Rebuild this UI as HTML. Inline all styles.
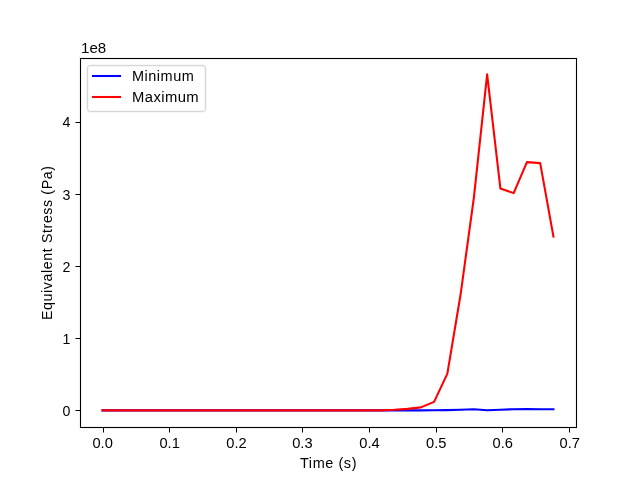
<!DOCTYPE html>
<html><head><meta charset="utf-8"><style>
html,body{margin:0;padding:0;background:#fff;}
svg{display:block;will-change:transform;}
text{font-family:"Liberation Sans",sans-serif;font-size:13.89px;fill:#000;}
</style></head><body>
<svg width="640" height="480" viewBox="0 0 640 480">
<rect x="0" y="0" width="640" height="480" fill="#fff"/>
<polyline points="102.55,410.40 115.81,410.40 129.07,410.40 142.33,410.40 155.59,410.40 168.86,410.40 182.12,410.40 195.38,410.40 208.64,410.40 221.90,410.40 235.17,410.40 248.43,410.40 261.69,410.40 274.95,410.40 288.21,410.40 301.48,410.40 314.74,410.40 328.00,410.40 341.26,410.40 354.52,410.40 367.79,410.40 381.05,410.40 394.31,410.40 407.57,410.40 420.83,410.40 434.10,410.25 447.36,410.10 460.62,409.70 473.88,409.30 487.14,410.20 500.41,409.70 513.67,409.20 526.93,409.10 540.19,409.30 553.45,409.30" fill="none" stroke="#0000ff" stroke-width="2.083" stroke-linejoin="round" stroke-linecap="square"/>
<polyline points="102.55,410.40 115.81,410.40 129.07,410.40 142.33,410.40 155.59,410.40 168.86,410.40 182.12,410.40 195.38,410.40 208.64,410.40 221.90,410.40 235.17,410.40 248.43,410.40 261.69,410.40 274.95,410.40 288.21,410.40 301.48,410.40 314.74,410.40 328.00,410.40 341.26,410.40 354.52,410.40 367.79,410.40 381.05,410.40 394.31,409.80 407.57,408.90 420.83,407.35 434.10,401.85 447.36,373.59 460.62,294.27 473.88,197.54 487.14,74.40 500.41,188.53 513.67,193.14 526.93,162.13 540.19,163.13 553.45,236.55" fill="none" stroke="#ff0000" stroke-width="2.083" stroke-linejoin="round" stroke-linecap="square"/>
<path d="M80.5 58.5H576.5M80.5 427.5H576.5M80.5 58.5V427.5M576.5 58.5V427.5" stroke="#000" stroke-opacity="0.055" stroke-width="3" fill="none" stroke-linecap="square"/>
<path d="M80.5 58.5H576.5M80.5 427.5H576.5M80.5 58.5V427.5M576.5 58.5V427.5" stroke="#000" stroke-width="1" fill="none" stroke-linecap="square"/>
<path d="M103.5 427.5V432.5M169.5 427.5V432.5M236.5 427.5V432.5M302.5 427.5V432.5M369.5 427.5V432.5M436.5 427.5V432.5M502.5 427.5V432.5M569.5 427.5V432.5M75.5 410.5H80.5M75.5 338.5H80.5M75.5 266.5H80.5M75.5 194.5H80.5M75.5 122.5H80.5" stroke="#000" stroke-width="1" fill="none"/>
<text x="102.64" y="448.00" text-anchor="middle" textLength="20.4" lengthAdjust="spacingAndGlyphs" style="font-size:13.74px">0.0</text><text x="169.66" y="448.00" text-anchor="middle" textLength="20.4" lengthAdjust="spacingAndGlyphs" style="font-size:13.74px">0.1</text><text x="236.48" y="448.00" text-anchor="middle" textLength="20.4" lengthAdjust="spacingAndGlyphs" style="font-size:13.74px">0.2</text><text x="302.35" y="448.00" text-anchor="middle" textLength="20.4" lengthAdjust="spacingAndGlyphs" style="font-size:13.74px">0.3</text><text x="369.58" y="448.00" text-anchor="middle" textLength="20.4" lengthAdjust="spacingAndGlyphs" style="font-size:13.74px">0.4</text><text x="436.31" y="448.00" text-anchor="middle" textLength="20.4" lengthAdjust="spacingAndGlyphs" style="font-size:13.74px">0.5</text><text x="502.69" y="448.00" text-anchor="middle" textLength="20.4" lengthAdjust="spacingAndGlyphs" style="font-size:13.74px">0.6</text><text x="569.82" y="448.00" text-anchor="middle" textLength="20.4" lengthAdjust="spacingAndGlyphs" style="font-size:13.74px">0.7</text>
<text x="70.30" y="416.00" text-anchor="end" style="font-size:14.19px">0</text><text x="70.30" y="344.00" text-anchor="end" style="font-size:14.19px">1</text><text x="70.30" y="272.00" text-anchor="end" style="font-size:14.19px">2</text><text x="70.30" y="200.00" text-anchor="end" style="font-size:14.19px">3</text><text x="70.30" y="127.00" text-anchor="end" style="font-size:14.19px">4</text>
<text x="81.00" y="53.00" textLength="25.2" lengthAdjust="spacingAndGlyphs">1e8</text>
<text x="328.25" y="467.80" text-anchor="middle" textLength="56.5" lengthAdjust="spacing" style="font-size:14.49px">Time (s)</text>
<text transform="translate(51.50 243.00) rotate(-90)" text-anchor="middle" textLength="154.0" lengthAdjust="spacing" style="font-size:14.19px">Equivalent Stress (Pa)</text>
<rect x="87.5" y="65.5" width="118" height="46" rx="2.78" ry="2.78" fill="#fff" fill-opacity="0.8" stroke="#000" stroke-opacity="0.031" stroke-width="3"/>
<rect x="87.5" y="65.5" width="118" height="46" rx="2.78" ry="2.78" fill="none" stroke="#cccccc" stroke-opacity="0.8" stroke-width="1"/>
<path d="M93 76H120" stroke="#0000ff" stroke-width="2.083" stroke-linecap="square"/>
<path d="M93 97H120" stroke="#ff0000" stroke-width="2.083" stroke-linecap="square"/>
<text x="132.00" y="81.00" textLength="61.8" lengthAdjust="spacing" style="font-size:14.49px">Minimum</text>
<text x="132.00" y="102.00" textLength="66.7" lengthAdjust="spacing" style="font-size:14.79px">Maximum</text>
</svg>
</body></html>
